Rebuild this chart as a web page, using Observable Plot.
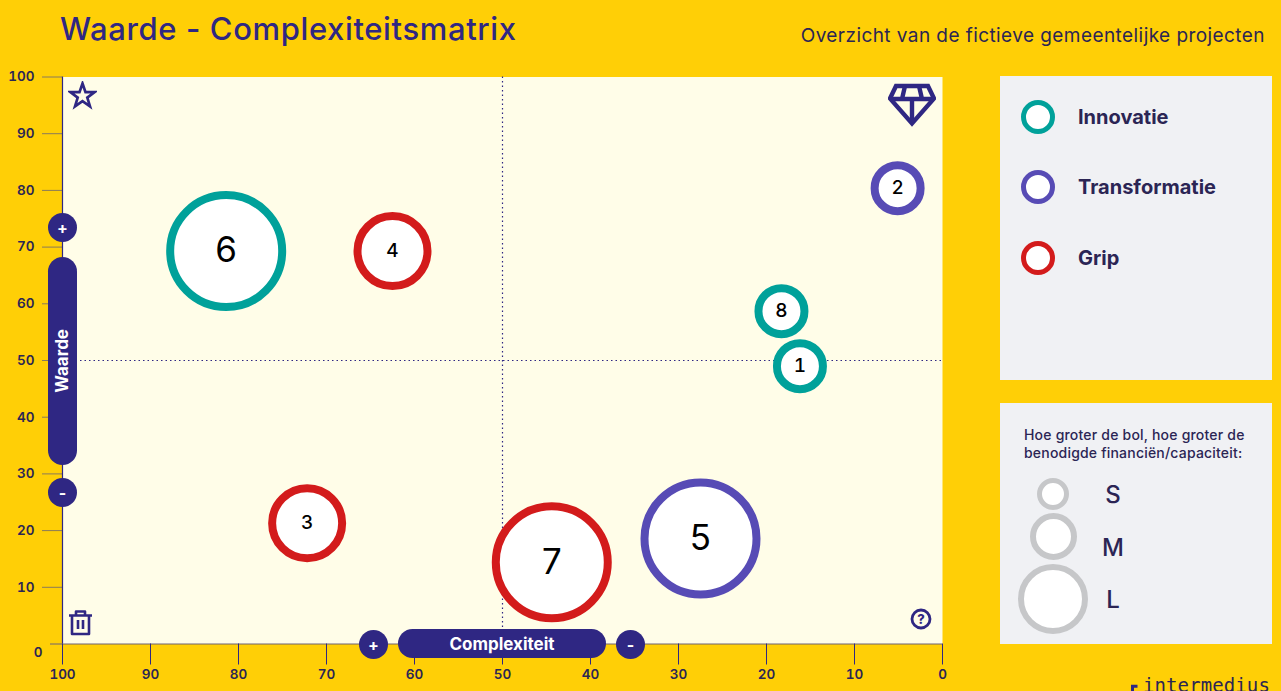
<!DOCTYPE html>
<html lang="nl">
<head>
<meta charset="utf-8">
<script src="https://cdn.jsdelivr.net/npm/d3@7"></script>
<script src="https://cdn.jsdelivr.net/npm/@observablehq/plot@0.6"></script>
<style>
html,body{margin:0;padding:0;background:#ffcf06;overflow:hidden}
#page{position:relative;width:1281px;height:691px;overflow:hidden;font-family:Inter,sans-serif;color:#2b2554}
#page>*{position:absolute}
#chart{left:0;top:0}
#chart svg{display:block;background:transparent}
.title{left:60px;top:9px;font-size:31px;font-weight:500;letter-spacing:.62px;color:#2f2783;white-space:nowrap;line-height:40px}
.sub{right:16px;top:24px;font-size:19px;letter-spacing:.43px;color:#2b2554;white-space:nowrap;line-height:24px}
.panel{background:#f0f1f4;left:1000px;width:272px}
.ring{box-sizing:border-box;border-radius:50%;background:#fff;border-style:solid}
.leg{left:1078px;font-size:20px;font-weight:700;line-height:24px;white-space:nowrap}
.note{left:1024px;top:426px;font-size:14px;letter-spacing:.2px;line-height:18px;font-weight:500;white-space:nowrap}
.sz{font-size:24px;line-height:28px;font-weight:500;text-align:center;width:30px}
.pill{background:#2f2783;color:#fff;font-weight:700;display:flex;align-items:center;justify-content:center;font-size:17px}
.round{border-radius:50%;width:29px;height:29px;font-size:16px}
.vtext{writing-mode:vertical-rl;transform:rotate(180deg) translateX(1px)}
.logo{left:1143px;top:673px;font-family:"DejaVu Sans Mono",monospace;font-size:19px;letter-spacing:.1px;line-height:24px;white-space:nowrap}
</style>
</head>
<body>
<div id="page">
  <div id="chart"></div>
  <div class="title">Waarde - Complexiteitsmatrix</div>
  <div class="sub">Overzicht van de fictieve gemeentelijke projecten</div>
  <div class="panel" style="top:76px;height:304px"></div>
  <div class="panel" style="top:403px;height:241px"></div>
  <div id="legend"></div>
  <div class="note">Hoe groter de bol, hoe groter de<br>benodigde financiën/capaciteit:</div>
  <div class="pill" style="left:48px;top:257px;width:29px;height:208px;border-radius:15px"><span class="vtext">Waarde</span></div>
  <div class="pill round" style="left:48px;top:213px">+</div>
  <div class="pill round" style="left:48px;top:478px">-</div>
  <div class="pill" style="left:398px;top:629px;width:208px;height:29px;border-radius:15px">Complexiteit</div>
  <div class="pill round" style="left:359px;top:630px">+</div>
  <div class="pill round" style="left:616px;top:630px">-</div>
  <svg style="left:68px;top:81px" width="29" height="29" viewBox="0 0 29 29"><path d="M14.5 2.5l3 8.6h9.2l-7.4 5.5 2.7 8.8-7.5-5.2-7.5 5.2 2.7-8.8-7.4-5.5h9.2z" fill="none" stroke="#2f2783" stroke-width="2.7"/></svg>
  <svg style="left:888px;top:83px" width="48" height="44" viewBox="0 0 48 44"><g fill="none" stroke="#2f2783" stroke-width="4.4" stroke-linejoin="miter"><path d="M8 3H40L46 15.5 24 40.5 2 15.5z"/><path d="M2 16H46M17 3L14 16M31 3L34 16M24 16V40"/></g></svg>
  <svg style="left:68px;top:609px" width="25" height="27" viewBox="0 0 25 27"><g fill="none" stroke="#2f2783" stroke-width="2.6" stroke-linejoin="round"><path d="M1 6.5H24M8 6V2.5H17V6M4 6.5V25H21V6.5M10 11V20M15 11V20"/></g></svg>
  <svg style="left:910px;top:608px" width="22" height="22" viewBox="0 0 22 22"><circle cx="11" cy="11" r="9" fill="none" stroke="#2f2783" stroke-width="2.8"/><text x="11" y="15.5" text-anchor="middle" font-size="13" font-weight="800" fill="#2f2783" font-family="Inter">?</text></svg>
  <svg style="left:1130px;top:683px" width="12" height="8" viewBox="0 0 12 8"><path d="M2.5 8V3.2H7.5" fill="none" stroke="#2f2783" stroke-width="3"/></svg>
  <div class="logo">intermedius</div>
</div>
<script>
const ids = [1, 2, 3, 4, 5, 6, 7, 8];
const complexity = [16.2, 5.1, 72.2, 62.5, 27.5, 81.4, 44.4, 18.3];
const value = [49, 80.4, 21.3, 69.3, 18.6, 69.3, 14.4, 58.7];
const themes = ["Innovatie", "Transformatie", "Grip", "Grip", "Transformatie", "Innovatie", "Grip", "Innovatie"];
const sizes = ["S", "S", "M", "M", "L", "L", "L", "S"];
const themeNames = ["Innovatie", "Transformatie", "Grip"];
const themeColors = ["#00a19a", "#574bb5", "#d31b1b"];
const sizeNames = ["S", "M", "L"];
const xTicks = [100, 90, 80, 70, 60, 50, 40, 30, 20, 10, 0];
const yTicks = [100, 90, 80, 70, 60, 50, 40, 30, 20, 10];

const projects = ids.map((id, i) => ({id, x: complexity[i], y: value[i], theme: themes[i], size: sizes[i]}));
const navy = "#2f2783", ink = "#2b2554";

const plot = Plot.plot({
  width: 1281, height: 691,
  marginLeft: 62, marginRight: 339, marginTop: 76.5, marginBottom: 47.5,
  style: {background: "transparent", fontFamily: "Inter, sans-serif"},
  x: {domain: [100, 0], label: null},
  y: {domain: [0, 100], label: null},
  r: {type: "ordinal", domain: sizeNames, range: [23, 35, 56]},
  color: {domain: themeNames, range: themeColors},
  marks: [
    Plot.frame({fill: "#fffde8", stroke: null}),
    Plot.ruleX([50], {stroke: navy, strokeWidth: 1.2, strokeDasharray: "1.5,3"}),
    Plot.ruleY([50], {stroke: navy, strokeWidth: 1.2, strokeDasharray: "1.5,3"}),
    Plot.axisY({ticks: yTicks, tickSize: 20, tickPadding: 8, stroke: "#8a7a5a", fill: ink, fontSize: 13.5, fontWeight: 600, label: null}),
    Plot.ruleY([0], {stroke: "#6e6272", insetLeft: -12}),
    Plot.text([0], {y: d => d, frameAnchor: "left", dx: -20, dy: 9, text: d => d, fill: ink, fontSize: 13.5, fontWeight: 600, textAnchor: "end"}),
    Plot.ruleX([100], {stroke: navy, strokeWidth: 1.2}),
    Plot.axisX({ticks: xTicks, tickSize: 21, tickPadding: 4, stroke: navy, fill: ink, fontSize: 13.5, fontWeight: 600, label: null}),
    Plot.dot(projects, {x: "x", y: "y", r: "size", fill: "white", stroke: "theme", strokeWidth: 8}),
    Plot.text(projects.filter(d => d.size !== "L"), {x: "x", y: "y", text: "id", fontSize: 19, fontWeight: 500, fill: "black"}),
    Plot.text(projects.filter(d => d.size === "L"), {x: "x", y: "y", text: "id", fontSize: 35, fontWeight: 400, fill: "black"})
  ]
});
document.getElementById("chart").append(plot);

const legend = document.getElementById("legend");
legend.style.cssText = "left:0;top:0";
function add(cls, css, txt) {
  const d = document.createElement("div");
  d.className = cls; d.style.cssText = "position:absolute;" + css;
  if (txt) d.textContent = txt;
  legend.append(d);
}
const themeTop = [100, 170, 241];
themeNames.forEach((n, i) => {
  add("ring", `left:1021px;top:${themeTop[i]}px;width:34px;height:34px;border-width:5px;border-color:${themeColors[i]}`);
  add("leg", `top:${themeTop[i] + 5}px`, n);
});
const ringBox = [[1037, 478, 32, 5.5], [1030, 513, 47, 6], [1018, 564, 70, 6]];
const letterTop = [481, 534, 586];
const letterLeft = [1098, 1098, 1098];
sizeNames.forEach((n, i) => {
  const [l, t, s, b] = ringBox[i];
  add("ring", `left:${l}px;top:${t}px;width:${s}px;height:${s}px;border-width:${b}px;border-color:#c6c7c9`);
  add("sz", `left:${letterLeft[i]}px;top:${letterTop[i]}px`, n);
});
</script>
</body>
</html>
